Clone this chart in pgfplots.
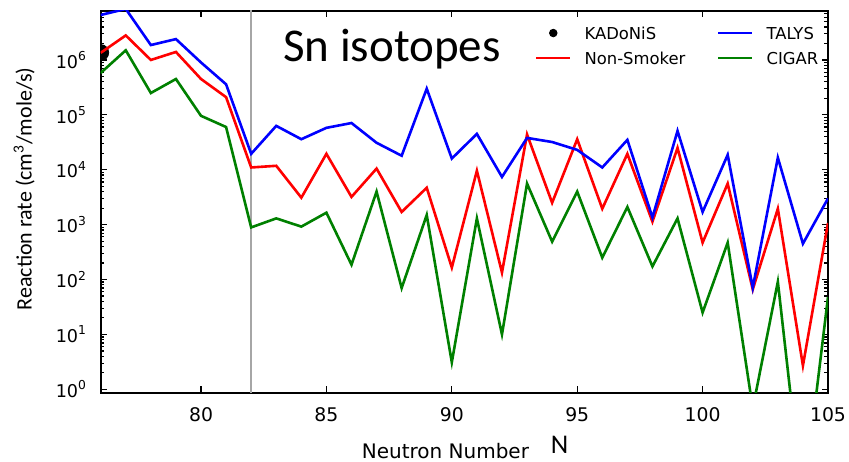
\documentclass[border=0pt]{standalone}
\usepackage{fontspec}
\setmainfont{DejaVu Sans}
\newfontfamily\calibri{Carlito}
\usepackage{pgfplots}
\pgfplotsset{compat=1.18}
\usepackage{pgfplotstable}

\pgfplotstableread{
N   talys    nonsmoker  cigar
76  6.6e6    1.35e6     5.8e5
77  8.5e6    2.8e6      1.5e6
78  1.87e6   1.0e6      2.5e5
79  2.4e6    1.4e6      4.5e5
80  9.0e5    4.5e5      9.6e4
81  3.6e5    2.1e5      6.0e4
82  1.95e4   1.1e4      890
83  6.3e4    1.18e4     1300
84  3.6e4    3100       920
85  5.8e4    1.95e4     1650
86  7.1e4    3200       186
87  3.1e4    1.05e4     4000
88  1.8e4    1700       70
89  3.0e5    4700       1500
90  1.6e4    165        3.1
91  4.5e4    9600       1300
92  7400     134        10
93  3.8e4    4.4e4      5600
94  3.2e4    2500       490
95  2.3e4    3.6e4      4000
96  1.1e4    1950       250
97  3.5e4    1.95e4     2100
98  1350     1130       173
99  5.1e4    2.5e4      1300
100 1700     470        25
101 1.87e4   5600       470
102 71       66         0.45
103 1.66e4   1950       91
104 450      2.7        0.008
105 3000     1070       48
}\datatable

\begin{document}
\begin{tikzpicture}
\useasboundingbox (-50.35pt,-34.15pt) rectangle (374.15pt,196.35pt);
\begin{axis}[
  scale only axis, width=363.65pt, height=190.85pt,
  xmin=76, xmax=105, ymode=log, ymin=0.867, ymax=7.8e6,
  xtick={80,85,90,95,100,105}, xticklabels={80,85,90,95,100,105},
  ytick={1,10,100,1000,10000,100000,1000000},
  yticklabels={10\textsuperscript{0},10\textsuperscript{1},10\textsuperscript{2},10\textsuperscript{3},10\textsuperscript{4},10\textsuperscript{5},10\textsuperscript{6}},
  minor ytick={2,3,4,5,6,7,8,9,20,30,40,50,60,70,80,90,200,300,400,500,600,700,800,900,2000,3000,4000,5000,6000,7000,8000,9000,2e4,3e4,4e4,5e4,6e4,7e4,8e4,9e4,2e5,3e5,4e5,5e5,6e5,7e5,8e5,9e5,2e6,3e6,4e6,5e6,6e6,7e6},
  tick align=inside,
  major tick length=3.2pt, minor tick length=1.8pt,
  tick style={black, line width=0.6pt},
  axis line style={line width=0.9pt},
  xticklabel style={font=\fontsize{9.4}{10}\selectfont, yshift=-3.7pt},
  yticklabel style={font=\fontsize{8.8}{10}\selectfont, xshift=-3.3pt},
  xlabel={Neutron Number},
  xlabel style={font=\fontsize{10}{12}\selectfont, at={(axis description cs:0.474,0)}, anchor=base, yshift=-32.65pt},
  ylabel={Reaction rate (cm\textsuperscript{3}/mole/s)},
  ylabel style={font=\calibri\fontsize{11}{12}\selectfont, at={(axis description cs:-0.10536,0.5337)}, anchor=center},
  legend columns=2,
  legend cell align=left,
  legend style={draw=none, fill=none, at={(0.5971,0.958)}, anchor=north west, inner sep=0pt, outer sep=0pt, row sep=6.5pt, font=\fontsize{8.2}{10}\selectfont, nodes={inner sep=0pt, text height=6pt, text depth=0pt}, /tikz/every even column/.append style={column sep=15.8pt}},
  legend image code/.code={\draw[#1] (0pt,0pt) -- (17pt,0pt); \path (23.5pt,0pt);},
  clip marker paths=true,
]
\addlegendimage{legend image code/.code={\fill[black] (8.5pt,0pt) circle (1.9pt); \path (0pt,0pt) (23.5pt,0pt);}}
\addlegendentry{KADoNiS}
\addlegendimage{blue, line width=1.3pt}
\addlegendentry{TALYS}
\addlegendimage{red, line width=1.3pt}
\addlegendentry{Non-Smoker}
\addlegendimage{green!50!black, line width=1.3pt}
\addlegendentry{CIGAR}

\addplot[black!35, line width=1.3pt, forget plot] coordinates {(82,0.5) (82,1e7)};
\addplot[only marks, mark=*, mark size=4pt, black, forget plot] coordinates {(76,1.36e6)};
\addplot[red, line width=1.3pt, forget plot] table[x=N, y=nonsmoker] {\datatable};
\addplot[blue, line width=1.3pt, forget plot] table[x=N, y=talys] {\datatable};
\addplot[green!50!black, line width=1.3pt, forget plot] table[x=N, y=cigar] {\datatable};

\node[font=\calibri\fontsize{23.5}{28}\selectfont, anchor=base] at (rel axis cs:0.4005,0.8664) {Sn isotopes};
\end{axis}
\node[font=\calibri\fontsize{13.5}{16}\selectfont, anchor=base, inner sep=0pt] at (229.4pt,-30.6pt) {N};
\end{tikzpicture}
\end{document}
